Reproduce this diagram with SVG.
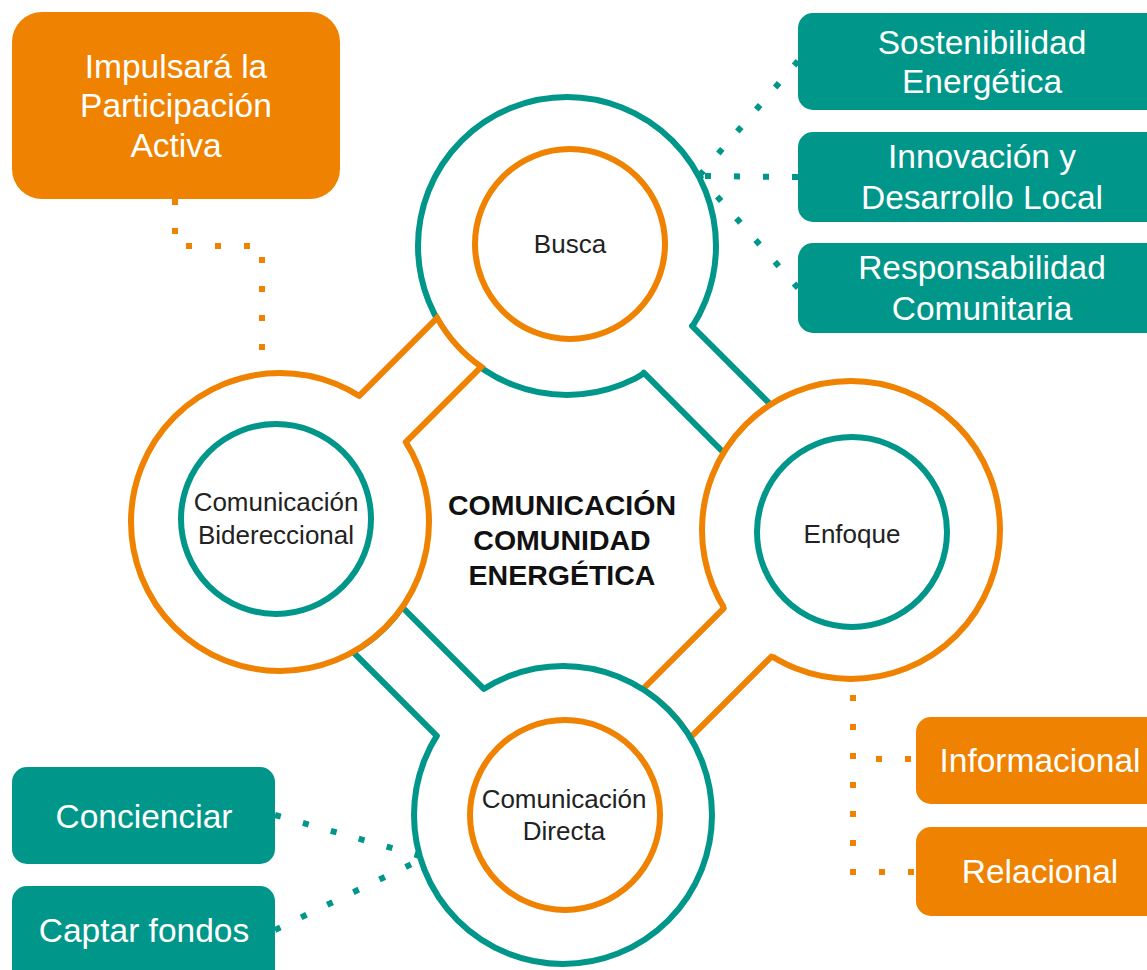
<svg xmlns="http://www.w3.org/2000/svg" width="1147" height="970" viewBox="0 0 1147 970">
<style>
.bg{fill:#ffffff}
.ring-t{fill:#ffffff;stroke:#00968A;stroke-width:6}
.ring-o{fill:#ffffff;stroke:#EF8200;stroke-width:6}
.bfill{fill:#ffffff;stroke:none}
.bline-t{fill:none;stroke:#00968A;stroke-width:6;stroke-linecap:round;stroke-linejoin:miter}
.bline-o{fill:none;stroke:#EF8200;stroke-width:6;stroke-linecap:round;stroke-linejoin:miter}
.dot-t{fill:none;stroke:#00968A;stroke-width:6;stroke-dasharray:6 23}
.dot-o{fill:none;stroke:#EF8200;stroke-width:6;stroke-dasharray:6 23}
.box-t{fill:#00968A}
.box-o{fill:#EF8200}
.lbl{font-family:"Liberation Sans",Arial,sans-serif;font-size:26px;fill:#222222;text-anchor:middle}
.ctr{font-family:"Liberation Sans",Arial,sans-serif;font-size:28.5px;font-weight:bold;fill:#111111;text-anchor:middle}
.btx{font-family:"Liberation Sans",Arial,sans-serif;font-size:33.5px;fill:#ffffff;text-anchor:middle}
</style>
<rect class="bg" x="0" y="0" width="1147" height="970"/>

<g id="connectors">
  <path class="dot-o" d="M175,199 V246 H262 V372"/>
  <path class="dot-t" d="M798,61 L699,176"/>
  <path class="dot-t" d="M798,177 L699,176"/>
  <path class="dot-t" d="M798,288 L699,176"/>
  <path class="dot-o" style="stroke-dashoffset:14" d="M853,680 V759 H917"/>
  <path class="dot-o" style="stroke-dashoffset:14" d="M853,680 V872 H917"/>
  <path class="dot-t" d="M275,815 L420,856"/>
  <path class="dot-t" d="M275,930 L420,860"/>
</g>

<g id="node-busca">
  <circle class="ring-t" cx="567" cy="246" r="149"/>
  <circle class="ring-o" cx="570" cy="244" r="95"/>
  <text class="lbl" x="570" y="253">Busca</text>
</g>

<g id="band-top-right">
  <path class="bfill" d="M692,326 L771.2,405.2 A149,149 0 0 0 724,453 L643.7,372.7 L636.6,365.6 L684.9,318.9 Z"/>
  <path class="bline-t" d="M692,326 L771.2,405.2 A149,149 0 0 0 724,453 L643.7,372.7"/>
</g>

<g id="node-enfoque">
  <circle class="ring-o" cx="851" cy="530" r="149"/>
  <circle class="ring-t" cx="852" cy="532" r="95"/>
  <text class="lbl" x="852" y="543">Enfoque</text>
</g>

<g id="band-right-bottom">
  <path class="bfill" d="M723.7,608.3 L642.8,689.2 A149,149 0 0 1 690.3,737.7 L771.2,656.8 L778.3,649.7 L730.8,601.2 Z"/>
  <path class="bline-o" d="M723.7,608.3 L642.8,689.2 A149,149 0 0 1 690.3,737.7 L771.2,656.8"/>
</g>

<g id="node-directa">
  <circle class="ring-t" cx="563" cy="815" r="149"/>
  <circle class="ring-o" cx="565" cy="815" r="95"/>
  <text class="lbl" x="564" y="808">Comunicación</text>
  <text class="lbl" x="564" y="840">Directa</text>
</g>

<g id="band-bottom-left">
  <path class="bfill" d="M436.8,735.8 L352.9,651.9 A149,149 0 0 0 402.2,607.2 L483.8,688.8 L490.9,695.9 L443.9,742.9 Z"/>
  <path class="bline-t" d="M436.8,735.8 L352.9,651.9 A149,149 0 0 0 402.2,607.2 L483.8,688.8"/>
</g>

<g id="node-bidereccional">
  <circle class="ring-o" cx="280" cy="522" r="149"/>
  <circle class="ring-t" cx="276" cy="519" r="95"/>
  <text class="lbl" x="276" y="511">Comunicación</text>
  <text class="lbl" x="276" y="544">Bidereccional</text>
</g>

<g id="band-top-left">
  <path class="bfill" d="M359.2,395.8 L437.1,317.9 A149,149 0 0 0 481.2,366.8 L405.8,442.2 L398.7,449.3 L352.1,402.9 Z"/>
  <path class="bline-o" d="M359.2,395.8 L437.1,317.9 A149,149 0 0 0 481.2,366.8 L405.8,442.2"/>
</g>

<g id="node-center">
  <text class="ctr" x="562" y="515">COMUNICACIÓN</text>
  <text class="ctr" x="562" y="550">COMUNIDAD</text>
  <text class="ctr" x="562" y="585">ENERGÉTICA</text>
</g>

<g id="node-impulsara">
  <rect class="box-o" x="12" y="12" width="328" height="187" rx="30"/>
  <text class="btx" x="176" y="78">Impulsará la</text>
  <text class="btx" x="176" y="117">Participación</text>
  <text class="btx" x="176" y="157">Activa</text>
</g>

<g id="node-sostenibilidad">
  <rect class="box-t" x="798" y="13" width="368" height="97" rx="15"/>
  <text class="btx" x="982" y="54">Sostenibilidad</text>
  <text class="btx" x="982" y="93">Energética</text>
</g>

<g id="node-innovacion">
  <rect class="box-t" x="798" y="132" width="368" height="90" rx="15"/>
  <text class="btx" x="982" y="168">Innovación y</text>
  <text class="btx" x="982" y="209">Desarrollo Local</text>
</g>

<g id="node-responsabilidad">
  <rect class="box-t" x="798" y="243" width="368" height="90" rx="15"/>
  <text class="btx" x="982" y="279">Responsabilidad</text>
  <text class="btx" x="982" y="320">Comunitaria</text>
</g>

<g id="node-informacional">
  <rect class="box-o" x="916" y="717" width="250" height="87" rx="15"/>
  <text class="btx" x="1040" y="772">Informacional</text>
</g>

<g id="node-relacional">
  <rect class="box-o" x="916" y="827" width="250" height="89" rx="15"/>
  <text class="btx" x="1040" y="883">Relacional</text>
</g>

<g id="node-concienciar">
  <rect class="box-t" x="12" y="767" width="263" height="97" rx="15"/>
  <text class="btx" x="144" y="828">Concienciar</text>
</g>

<g id="node-captar">
  <rect class="box-t" x="12" y="886" width="263" height="100" rx="15"/>
  <text class="btx" x="144" y="942">Captar fondos</text>
</g>
</svg>
